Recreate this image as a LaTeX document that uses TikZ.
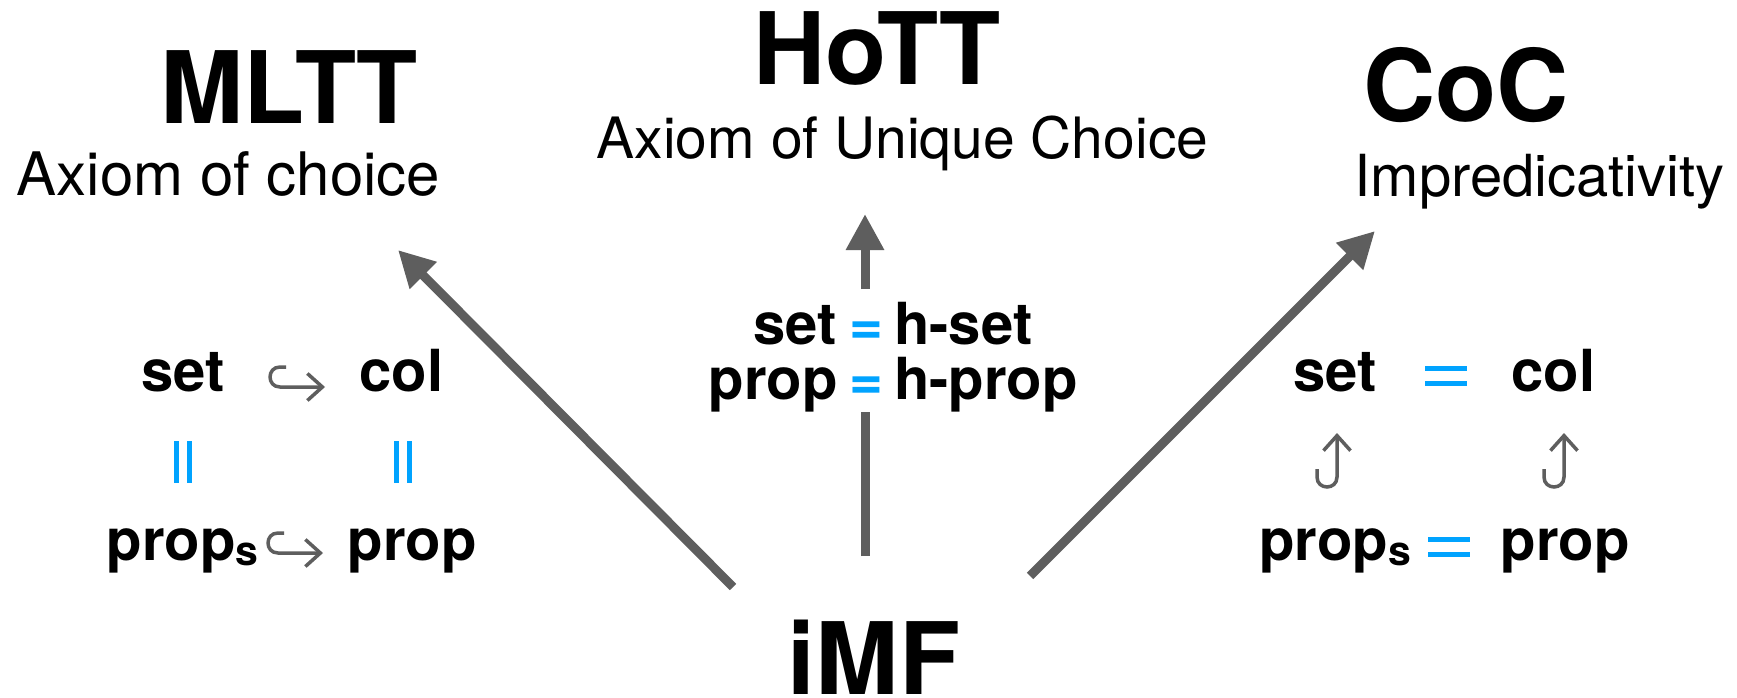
\documentclass[tikz,border=0pt]{standalone}
\usepackage{fontspec}
\setmainfont{TeX Gyre Heros}
\usetikzlibrary{arrows.meta,calc}
\definecolor{arrgray}{RGB}{94,94,94}
\definecolor{eqblue}{RGB}{0,163,255}
\begin{document}
\begin{tikzpicture}[x=1pt,y=-1pt,
  title/.style={font=\fontsize{100}{100}\selectfont\bfseries, inner sep=0pt, anchor=base},
  subtitle/.style={font=\fontsize{60}{60}\selectfont, inner sep=0pt, anchor=base},
  term/.style={font=\fontsize{58}{58}\selectfont\bfseries, inner sep=0pt, anchor=base},
  bigarrow/.style={draw=arrgray, line width=9pt, -{Triangle[length=36pt,width=36pt]}},
  bigline/.style={draw=arrgray, line width=9pt},
  hookarrow/.style={draw=arrgray, line width=3.5pt, -{Straight Barb[length=15pt,width=27pt]}},
  eqbar/.style={draw=eqblue, line width=5pt}
]
\fill[white] (0,0) rectangle (1737,698);
\useasboundingbox (0,0) rectangle (1737,698);

% titles
\node[title] (mltt) at (289,124) {MLTT};
\node[subtitle] (mlttsub) at (228.5,195) {Axiom of choice};
\node[title] (hott) at (876.5,85) {HoTT};
\node[subtitle, font=\fontsize{57}{57}\selectfont] (hottsub) at (902.5,158) {Axiom of Unique Choice};
\node[title] (coc) at (1466,122) {CoC};
\node[subtitle, font=\fontsize{58}{58}\selectfont] (cocsub) at (1539.5,196) {Impredicativity};
\node[title] (imf) at (874,694) {iMF};

% middle text
\node[term, anchor=base east] (mset) at (837,344) {set};
\node[term, text=eqblue] (meq1) at (866.5,344) {=};
\node[term, anchor=base west] (mhset) at (894,344) {h-set};
\node[term, anchor=base east] (mprop) at (838,399) {prop};
\node[term, text=eqblue] (meq2) at (866.5,399) {=};
\node[term, anchor=base west] (mhprop) at (894,399) {h-prop};

% left square
\node[term] (lset) at (183,391) {set};
\node[term] (lcol) at (401.5,391) {col};
\node[term] (lprops) at (182.5,560) {prop{\fontsize{41}{41}\selectfont\raisebox{-5pt}{s}}};
\node[term] (lprop) at (412,560) {prop};

% right square
\node[term] (rset) at (1335,391) {set};
\node[term] (rcol) at (1553.5,391) {col};
\node[term] (rprops) at (1335,560) {prop{\fontsize{41}{41}\selectfont\raisebox{-5pt}{s}}};
\node[term] (rprop) at (1565,560) {prop};

% big arrows
\coordinate (la0) at (733,587);
\coordinate (la1) at (398,250);
\draw[bigarrow] (la0) -- (la1);
\coordinate (ra0) at (1030,576);
\coordinate (ra1) at (1375,231);
\draw[bigarrow] (ra0) -- (ra1);
\coordinate (ma0) at (865,556);
\coordinate (ma1) at (865,412);
\coordinate (ma2) at (865,289);
\coordinate (ma3) at (865,214);
\draw[bigline] (ma0) -- (ma1);
\draw[bigarrow] (ma2) -- (ma3);

% left hooks
\coordinate (lh1a) at (286,367);
\coordinate (lh1b) at (325,387);
\draw[hookarrow] (lh1a) -- (280,367) .. controls (266.7,367) and (266.7,387) .. (280,387) -- (lh1b);
\coordinate (lh2a) at (284,533);
\coordinate (lh2b) at (323,553);
\draw[hookarrow] (lh2a) -- (278,533) .. controls (264.7,533) and (264.7,553) .. (278,553) -- (lh2b);

% left equalities
\draw[eqbar] (176.5,441) -- (176.5,483);
\draw[eqbar] (189.5,441) -- (189.5,483);
\draw[eqbar] (396,441) -- (396,483);
\draw[eqbar] (409,441) -- (409,483);

% right equalities
\draw[eqbar] (1425,368) -- (1467,368);
\draw[eqbar] (1425,383) -- (1467,383);
\draw[eqbar] (1428,539) -- (1470,539);
\draw[eqbar] (1428,554) -- (1470,554);

% right hooks
\coordinate (rh1a) at (1317,469);
\coordinate (rh1b) at (1337,433);
\draw[hookarrow] (rh1a) -- (1317,477) .. controls (1317,490.3) and (1337,490.3) .. (1337,477) -- (rh1b);
\coordinate (rh2a) at (1544,469);
\coordinate (rh2b) at (1564,433);
\draw[hookarrow] (rh2a) -- (1544,477) .. controls (1544,490.3) and (1564,490.3) .. (1564,477) -- (rh2b);
\end{tikzpicture}
\end{document}
